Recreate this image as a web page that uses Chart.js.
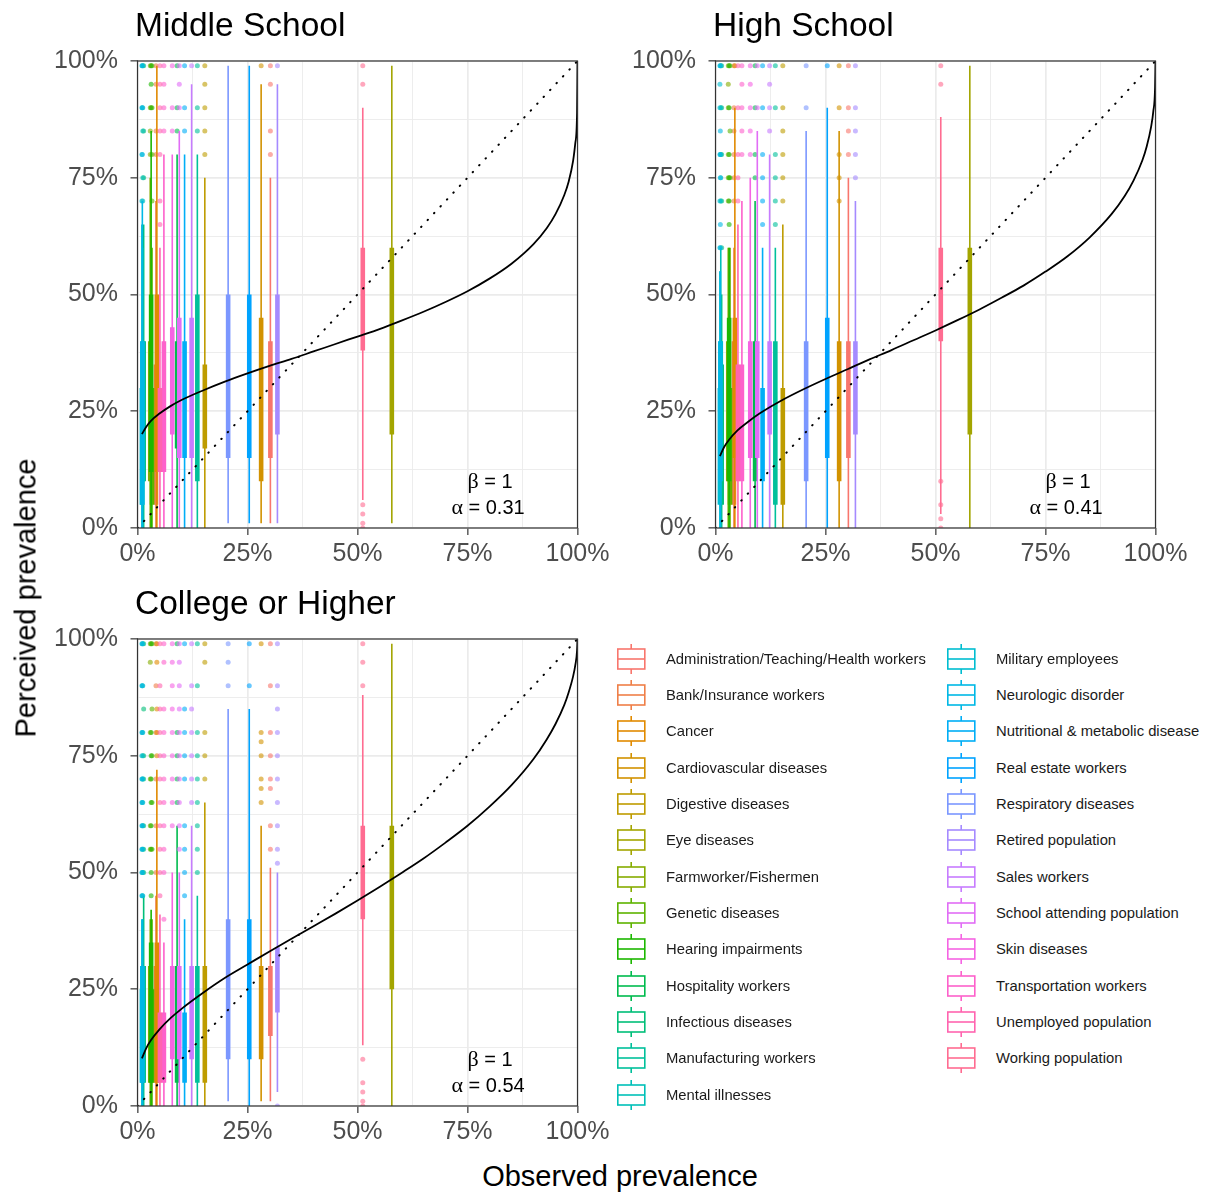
<!DOCTYPE html>
<html><head><meta charset="utf-8">
<script src="https://cdn.jsdelivr.net/npm/chart.js@4.4.1/dist/chart.umd.min.js"></script>
<style>
body{margin:0;background:#fff;width:1207px;height:1193px;position:relative;overflow:hidden;font-family:"Liberation Sans",Arial,sans-serif;}
canvas{position:absolute;}
.title{position:absolute;font-size:33.5px;color:#000;line-height:1;white-space:nowrap;}
.axt{position:absolute;font-size:29px;color:#000;line-height:1;white-space:nowrap;}
.ann{position:absolute;font-size:20px;color:#000;line-height:1;white-space:nowrap;transform:translateX(-50%);}
.ann .g{font-family:"Liberation Serif","DejaVu Serif",serif;font-size:22px;}
.lg{position:absolute;font-size:14.8px;color:#1a1a1a;line-height:1;white-space:nowrap;}
.key{position:absolute;}
</style></head><body>
<canvas id="c1" width="620" height="580" style="left:0;top:0;width:620px;height:580px"></canvas>
<canvas id="c2" width="620" height="580" style="left:578px;top:0;width:620px;height:580px"></canvas>
<canvas id="c3" width="620" height="580" style="left:0;top:578px;width:620px;height:580px"></canvas>
<div class="title" style="left:135px;top:7.6px">Middle School</div>
<div class="title" style="left:713px;top:7.6px">High School</div>
<div class="title" style="left:135px;top:586px">College or Higher</div>
<div class="axt" style="left:620px;top:1162px;transform:translateX(-50%)">Observed prevalence</div>
<div class="axt" style="left:26px;top:598px;transform:translate(-50%,-50%) rotate(-90deg)">Perceived prevalence</div>
<div class="ann" style="left:490px;top:470px"><span class="g">β</span> = 1</div>
<div class="ann" style="left:488px;top:496px"><span class="g">α</span> = 0.31</div>
<div class="ann" style="left:1068px;top:470px"><span class="g">β</span> = 1</div>
<div class="ann" style="left:1066px;top:496px"><span class="g">α</span> = 0.41</div>
<div class="ann" style="left:490px;top:1048px"><span class="g">β</span> = 1</div>
<div class="ann" style="left:488px;top:1074px"><span class="g">α</span> = 0.54</div>
<div id="legend"></div>
<script>
// ---------- data ----------
const categories = ["Administration/Teaching/Health workers","Bank/Insurance workers","Cancer","Cardiovascular diseases","Digestive diseases","Eye diseases","Farmworker/Fishermen","Genetic diseases","Hearing impairments","Hospitality workers","Infectious diseases","Manufacturing workers","Mental illnesses","Military employees","Neurologic disorder","Nutritional & metabolic disease","Real estate workers","Respiratory diseases","Retired population","Sales workers","School attending population","Skin diseases","Transportation workers","Unemployed population","Working population"];
// observed prevalence (%) per category
const observed = [30.2,4.2,4.4,28.1,15.3,57.8,2.9,3.3,3.1,9.0,1.4,13.6,1.2,1.0,1.1,10.7,25.4,20.6,31.8,12.3,9.5,7.9,6.0,5.1,51.2];

// Middle School: whisker low, box low (Q1), box high (Q3), whisker high
const msLow  = [1,0,0,1,0,1,0,0,0,0,0,0,0,0,0,0,1,1,1,0,0,0,0,0,6];
const msQ1   = [15,5,12,10,17,20,10,5,12,17,10,10,10,5,5,15,15,15,20,15,15,20,12,12,38];
const msQ3   = [40,35,50,45,35,60,40,30,50,40,40,50,40,30,40,40,50,50,50,45,45,43,40,30,60];
const msHigh = [75,70,99,95,75,99,75,60,85,80,65,80,60,65,70,80,99,99,95,95,85,80,80,60,90];
const msOut  = [[99,95,85,80],[99,95,85,80],[],[99],[99,95,90,85,80],[],[99,90,85,80],[99,90,80,70],[99,95,90],[99,90,85],[99,85,75],[99,90,85],[99,90,85,75,70],[99,90,80,70],[99,90,80],[99,90,85],[],[],[99],[99],[99,95,90],[99,90,85],[99,95,90,85],[99,95,90,85,80,70,65],[99,95,5,3,1,0]];

// High School
const hsLow  = [0,0,0,0,0,0,0,0,0,0,0,0,0,0,0,0,0,0,0,0,0,0,0,0,3];
const hsQ1   = [15,5,15,10,5,20,10,5,10,10,5,5,10,5,10,10,15,10,20,20,15,15,10,10,40];
const hsQ3   = [40,40,45,40,30,60,40,30,45,40,35,40,40,30,40,30,45,40,40,40,40,40,35,35,60];
const hsHigh = [75,60,90,85,65,99,60,60,60,70,50,60,60,55,55,60,90,85,70,80,85,75,70,65,88];
const hsOut  = [[99,90,85,80],[99,90,85,80,75,70],[99],[99,90,80,75,70],[99,90,85,80,75,70],[],[99,95,90,80,75,70],[99,85,75],[99,90,80,75,70,65],[99,90,80,75],[99,90,80,70,60],[99,90,80,75,70,65],[99,90,80,75,70],[99,95,90,80,70,60],[99,85,80,75,65,60],[99,90,80,75,70,65],[99],[99,90],[99,90,85,80,75],[99,95,90,85],[99,90],[99,95,90,85,80],[99,95,90,85,80],[99,90,80,75,70],[99,95,10,5,2,0]];

// College or Higher
const coLow  = [1,0,0,1,0,0,0,0,0,0,0,0,0,0,0,0,0,1,3,0,0,0,0,0,13];
const coQ1   = [15,5,5,10,5,25,5,5,5,5,5,5,5,5,5,5,10,10,20,10,10,10,5,5,40];
const coQ3   = [30,30,35,30,30,60,30,25,35,30,30,30,30,25,30,20,40,40,34,30,30,30,20,20,60];
const coHigh = [51,45,72,60,65,99,40,40,42,60,45,45,40,40,40,40,85,85,50,60,50,50,35,41,88];
const coOut  = [[99,90,80,75,70,68,60,55],[99,90,80,70,60,50],[99,95,85,80,75],[99,80,78,75,70,68,65],[99,95,80,75,70],[],[99,95,80,70,60,55],[99,85,75,65,55],[99,80,75,70,65,60,55,50,45],[99,80,75,70,65],[99,85,75,70,60,55,50],[99,90,80,75,70,65,60,55,50],[99,90,80,75,70,65,60,55,50,45],[99,90,80,75,70,65,60,55,50,45],[99,90,80,70,65,60,55,50,45],[99,85,80,75,70,60,55,50,45],[99,90],[99,95,90],[99,90,85,80,75,70,65,60,55,52,0],[99,90,85,80,75,70,65],[99,95,90,85,80,75,70,65,60,55],[99,95,90,85,80,75,70,65,60],[99,95,85,80,75,70,65,60,55,50,40],[99,90,85,80,75,70,65,60,55,50,45],[99,95,90,10,5,3,1,0]];

// fitted weighting curves (x = observed %, y = perceived %)
const curveX  = [1,2,3,5,7.5,10,15,20,25,30,35,40,45,50,55,60,65,70,75,80,85,90,93,95,97,98,99,99.5,99.9,100];
const msCurve = [20.1,21.7,22.9,24.5,26.1,27.4,29.5,31.4,33.1,34.7,36.2,37.8,39.4,41.0,42.6,44.4,46.3,48.4,50.7,53.4,56.6,60.8,64.2,67.2,71.3,74.2,78.6,82.4,88.9,100];
const hsCurve = [15.4,17.4,18.8,20.9,22.8,24.5,27.3,29.7,31.9,34.0,36.1,38.1,40.2,42.3,44.5,46.8,49.3,51.9,54.9,58.2,62.2,67.2,71.1,74.4,78.7,81.7,85.9,89.2,94.3,100];
const coCurve = [10.2,12.4,14.0,16.4,18.8,20.8,24.3,27.5,30.3,33.1,35.8,38.5,41.2,44.0,46.9,49.9,53.0,56.4,60.0,64.1,68.7,74.3,78.5,81.8,85.9,88.6,92.0,94.4,97.6,100];
const diagonal = [0,100];

const majorTicks = [0,25,50,75,100];
const tickLabel = v => v + '%';

// ---------- style ----------
const palette = ['#F8766D','#EF7F48','#E18A00','#D29200','#BE9C00','#A3A500','#86AC00','#5EB300','#1DB700','#00BB4E','#00BE78','#00C09B','#00C0B8','#00BDD0','#00B8E5','#00AEF6','#00A3FF','#7B97FF','#A58AFF','#C77CFF','#E16DF6','#F564E3','#FD61CB','#FF64AF','#FF6C91'];
const FONT = '"Liberation Sans", Arial, sans-serif';
function hexA(h,a){const r=parseInt(h.slice(1,3),16),g=parseInt(h.slice(3,5),16),b=parseInt(h.slice(5,7),16);return `rgba(${r},${g},${b},${a})`;}
const isMajor = v => majorTicks.includes(v);

function buildDatasets(low,q1,q3,high,outs,curve){
  const ds=[];
  ds.push({data:curveX.map((x,i)=>({x,y:curve[i]})),borderColor:'#000',borderWidth:1.8,pointRadius:0,showLine:true,cubicInterpolationMode:'monotone',order:0});
  ds.push({data:diagonal.map(v=>({x:v,y:v})),borderColor:'#000',borderWidth:2,borderDash:[0.5,8.9],borderCapStyle:'round',pointRadius:0,showLine:true,order:1});
  categories.forEach((c,i)=>{
    const base=10+(24-i)*3, col=palette[i], x=observed[i];
    ds.push({data:[{x,y:low[i]},{x,y:high[i]}],borderColor:col,borderWidth:1.6,pointRadius:0,showLine:true,order:base+1});
    ds.push({data:[{x,y:q1[i]},{x,y:q3[i]}],borderColor:col,borderWidth:4.6,borderCapStyle:'butt',pointRadius:0,showLine:true,order:base});
    ds.push({data:outs[i].map(v=>({x,y:v})),backgroundColor:hexA(col,0.6),borderWidth:0,pointRadius:2.5,showLine:false,order:base+2});
  });
  return ds;
}

const borderPlugin={id:'panelBorder',afterDraw(chart){const a=chart.chartArea,c=chart.ctx;c.save();c.strokeStyle='#333333';c.lineWidth=1.2;c.strokeRect(a.left,a.top,a.right-a.left,a.bottom-a.top);c.restore();}};

function axis(isX){
  return {
    type:'linear',min:0,max:100,
    ticks:{stepSize:12.5,autoSkip:false,maxRotation:0,color:'#4D4D4D',font:{family:FONT,size:25},padding:isX?4:12.5,
      callback:v=>isMajor(v)?tickLabel(v):''},
    grid:{color:'#EBEBEB',lineWidth:ctx=>isMajor(ctx.tick.value)?1.7:0.9,tickLength:7,tickWidth:1.2,
      tickColor:ctx=>isMajor(ctx.tick.value)?'#333333':'rgba(0,0,0,0)'},
    border:{display:false},
    afterFit:s=>{ if(isX) s.height=45; else s.width=100; }
  };
}

function makePanel(id,low,q1,q3,high,outs,curve){
  new Chart(document.getElementById(id),{
    type:'scatter',
    data:{datasets:buildDatasets(low,q1,q3,high,outs,curve)},
    options:{responsive:false,animation:false,events:[],
      layout:{padding:{left:37.5,right:42.5,top:61,bottom:7}},
      plugins:{legend:{display:false},tooltip:{enabled:false}},
      scales:{x:axis(true),y:axis(false)}},
    plugins:[borderPlugin]
  });
}
makePanel('c1',msLow,msQ1,msQ3,msHigh,msOut,msCurve);
makePanel('c2',hsLow,hsQ1,hsQ3,hsHigh,hsOut,hsCurve);
makePanel('c3',coLow,coQ1,coQ3,coHigh,coOut,coCurve);

// ---------- legend ----------
const lg=document.getElementById('legend');
categories.forEach((c,i)=>{
  const col=i<13?0:1, row=i<13?i:i-13;
  const cy=658.8+row*36.33;
  const kx=col?946.7:616.7, tx=col?996:666;
  const col_=palette[i];
  lg.insertAdjacentHTML('beforeend',
    `<svg class="key" style="left:${kx}px;top:${cy-16}px" width="30" height="32"><line x1="14.2" y1="1" x2="14.2" y2="31" stroke="${col_}" stroke-width="1.6"/><rect x="0.8" y="6" width="27" height="20" fill="#fff" stroke="${col_}" stroke-width="1.6"/><line x1="0.8" y1="16" x2="27.8" y2="16" stroke="${col_}" stroke-width="1.6"/></svg>`+
    `<div class="lg" style="left:${tx}px;top:${cy-7}px">${c.replace('&','&amp;')}</div>`);
});
</script>
</body></html>
